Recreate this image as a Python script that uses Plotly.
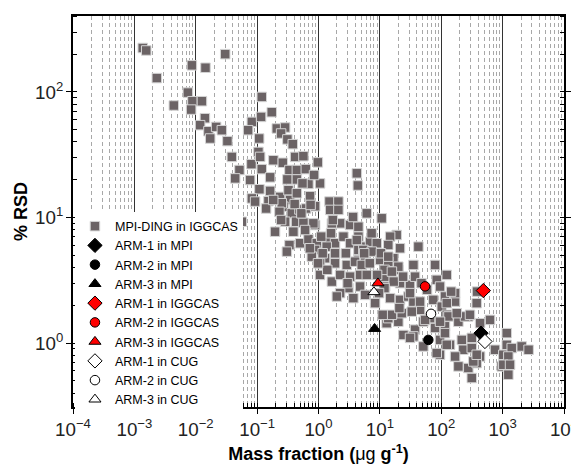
import plotly.graph_objects as go

# MPI-DING reference glasses measured in IGGCAS (mass fraction in ug/g, %RSD)
mpi_mass = [
    1.37e-3, 1.56e-3, 2.32e-3, 8.65e-3, 0.0144, 0.0302, 7.43e-3, 8.83e-3, 0.0126, 8.41e-3,
    4.39e-3, 0.0141, 0.0118, 0.0161, 0.0215, 0.0172, 0.0266, 0.0328, 0.0387, 0.0515,
    0.0439, 0.0769, 0.0807, 0.105, 0.112, 0.108, 0.082, 0.0713, 0.116, 0.119,
    0.173, 0.209, 0.286, 0.246, 0.311, 0.381, 0.416, 0.184, 0.262, 0.119,
    0.163, 0.336, 0.444, 0.621, 0.311, 0.444, 0.109, 0.163, 0.082, 0.0927,
    0.153, 0.237, 0.324, 0.344, 0.444, 0.268, 0.568, 0.686, 0.975, 1.06,
    4.21, 4.37, 0.140, 0.0564, 0.729, 0.252, 0.231, 0.367, 0.489, 0.628,
    0.881, 1.51, 2.11, 1.55, 0.196, 0.286, 0.390, 0.431, 0.568, 0.881,
    0.336, 0.305, 0.501, 0.686, 0.938, 0.881, 1.40, 1.86, 2.25, 3.27,
    4.47, 2.55, 3.27, 4.47, 5.74, 1.28, 1.86, 2.89, 4.47, 1.06,
    0.778, 5.74, 4.47, 0.826, 0.605, 1.36, 1.65, 6.12, 10.7, 18.8,
    14.7, 13.7, 21.3, 16.6, 42.4, 4.21, 6.92, 8.91, 5.38, 7.38,
    1.86, 3.94, 5.07, 10.1, 13.7, 1.06, 1.65, 2.25, 3.27, 4.76,
    6.12, 3.07, 4.76, 3.70, 2.25, 5.74, 8.35, 12.2, 12.2, 14.7,
    21.3, 20.0, 21.3, 31.0, 29.1, 35.2, 37.4, 45.2, 33.1, 20.0,
    35.2, 79.3, 123, 84.5, 31.0, 45.2, 74.3, 115, 168, 102,
    123, 12.9, 20.0, 37.4, 51.1, 79.3, 115, 190, 276, 24.2,
    35.2, 95.5, 139, 216, 314, 51.1, 95.5, 229, 314, 429,
    168, 190, 276, 378, 752, 1026, 378, 623, 429, 1167,
    966, 314, 1167, 1406, 2046, 1239, 1026, 1321, 1239, 123,
    115, 131, 123, 244, 294, 179, 168, 333, 378, 2650,
    383, 13.7, 22.7, 65.8, 95.5, 31.0, 84.5, 15.7, 11.1, 54.5,
    20.8, 1.99, 1.39, 2.98, 6.84, 10.4, 13.7, 11.9, 15.7, 9.0,
    16.8, 23.9, 47.6, 58.7, 95.5, 145, 11.9, 9.7, 0.246, 0.409,
    0.526, 0.743, 1.11, 0.724, 0.982, 1.17, 1.60, 2.11, 1.71, 3.66,
    7.33, 5.55, 2.79, 0.846, 0.548, 0.183,
]
mpi_rsd = [
    224, 214, 129, 163, 156, 200, 98.9, 84.4, 84.4, 72.4,
    78.0, 61.8, 54.4, 48.7, 52.7, 42.6, 49.6, 40.6, 30.4, 23.9,
    20.5, 19.9, 26.6, 33.3, 30.4, 42.6, 57.8, 49.6, 63.3, 91.3,
    69.0, 51.2, 52.1, 46.7, 41.9, 38.4, 30.4, 28.6, 27.3, 24.3,
    20.9, 23.9, 23.9, 24.3, 20.1, 20.1, 16.8, 16.3, 14.2, 13.4,
    13.5, 14.6, 16.5, 13.8, 15.6, 12.2, 30.8, 18.5, 27.5, 18.7,
    22.5, 18.0, 11.8, 9.26, 14.8, 13.0, 11.1, 10.8, 11.6, 11.8,
    12.3, 13.4, 13.4, 11.5, 7.71, 9.26, 7.71, 9.26, 9.09, 8.72,
    6.04, 5.35, 6.24, 6.71, 6.24, 5.52, 6.83, 6.24, 8.99, 8.72,
    8.45, 7.04, 6.24, 7.04, 5.86, 4.74, 4.32, 4.19, 4.59, 4.32,
    4.88, 4.59, 5.52, 8.99, 7.95, 5.86, 8.99, 10.8, 9.86, 7.26,
    7.04, 6.04, 5.69, 4.74, 5.86, 6.62, 6.42, 6.24, 5.52, 5.35,
    5.19, 4.45, 4.19, 4.59, 4.45, 3.49, 3.09, 3.49, 3.38, 3.49,
    3.49, 2.74, 2.82, 2.28, 2.50, 2.42, 2.08, 3.38, 2.82, 2.28,
    2.21, 3.83, 3.00, 2.91, 2.35, 2.14, 3.38, 1.84, 1.78, 4.06,
    4.19, 4.19, 3.49, 3.19, 2.50, 2.14, 2.21, 2.35, 2.14, 1.95,
    1.68, 1.44, 1.48, 1.28, 1.48, 1.32, 1.36, 1.48, 1.63, 1.16,
    1.13, 1.06, 0.969, 1.06, 1.10, 0.94, 0.807, 0.885, 0.913, 0.782,
    0.782, 0.652, 0.633, 0.693, 0.885, 0.807, 2.08, 1.53, 1.44, 1.20,
    0.652, 0.527, 0.969, 0.913, 0.94, 0.782, 0.672, 0.672, 0.560, 0.969,
    1.20, 1.63, 2.08, 1.63, 1.68, 1.73, 2.50, 0.714, 0.807, 0.885,
    2.57, 1.58, 1.73, 1.58, 1.48, 1.10, 0.833, 1.68, 1.68, 1.53,
    1.90, 2.35, 3.83, 3.00, 4.32, 5.19, 4.88, 3.83, 3.71, 3.49,
    3.09, 3.38, 3.00, 2.66, 2.82, 2.57, 2.74, 2.50, 9.55, 12.8,
    10.8, 12.6, 7.04, 5.69, 4.32, 5.19, 7.49, 11.5, 9.55, 10.1,
    7.49, 5.19, 5.19, 21.8, 18.7, 13.8,
]

# ARM glasses: one value per lab, order ARM-1, ARM-2, ARM-3
arm_names = ["ARM-1", "ARM-2", "ARM-3"]
labs = ["MPI", "IGGCAS", "CUG"]
arm_mass = {
    "MPI": [445, 61.6, 8.2],
    "IGGCAS": [485, 54.5, 9.3],
    "CUG": [515, 68.2, 8.0],
}
arm_rsd = {
    "MPI": [1.2, 1.06, 1.3],
    "IGGCAS": [2.62, 2.83, 3.0],
    "CUG": [1.03, 1.71, 2.55],
}

x_tick_alias = {"1": "10<sup>0</sup>", "10": "10<sup>1</sup>"}
y_tick_alias = {"1": "10<sup>0</sup>", "10": "10<sup>1</sup>"}

lab_fill = {"MPI": "black", "IGGCAS": "#ff0000", "CUG": "white"}
arm_symbol = {"ARM-1": "diamond", "ARM-2": "circle", "ARM-3": "triangle-up"}
arm_size = {"ARM-1": 11, "ARM-2": 9.5, "ARM-3": 10.5}

fig = go.Figure()

fig.add_trace(go.Scatter(
    x=mpi_mass, y=mpi_rsd, mode="markers", name="MPI-DING in IGGCAS",
    marker=dict(symbol="square", size=9.5, color="#6b6365",
                line=dict(color="#d4d4d4", width=1)),
))

for lab in labs:
    for i, arm in enumerate(arm_names):
        fig.add_trace(go.Scatter(
            x=[arm_mass[lab][i]], y=[arm_rsd[lab][i]], mode="markers",
            name=f"{arm} in {lab}",
            marker=dict(symbol=arm_symbol[arm], size=arm_size[arm],
                        color=lab_fill[lab], line=dict(color="black", width=1)),
        ))

axis_font = dict(family="Liberation Sans, Arial, sans-serif", size=15, color="#222")
title_font = dict(family="Liberation Sans, Arial, sans-serif", size=18, color="black")

fig.update_xaxes(
    type="log", range=[-4, 4], tickmode="linear", tick0=0, dtick=1,
    exponentformat="power", labelalias=x_tick_alias, automargin=False,
    ticklabeloverflow="allow",
    showline=True, linecolor="black", linewidth=1.5, mirror=True,
    ticks="outside", ticklen=5, tickcolor="black", tickfont=axis_font,
    showgrid=True, gridcolor="#333", gridwidth=1,
    minor=dict(dtick="D1", showgrid=True, gridcolor="#a8a8a8", griddash="4px,3px",
               ticks="inside", ticklen=4, tickcolor="black"),
    title=dict(text="<b>Mass fraction (</b>μg <b>g<sup>-1</sup>)</b>",
               font=title_font, standoff=9),
    zeroline=False,
)
fig.update_yaxes(
    type="log", range=[-0.509, 2.605], tickmode="linear", tick0=0, dtick=1,
    exponentformat="power", labelalias=y_tick_alias, automargin=False,
    showline=True, linecolor="black", linewidth=1.5, mirror="ticks",
    ticks="outside", ticklen=5, tickcolor="black", tickfont=axis_font,
    showgrid=False,
    minor=dict(dtick="D1", showgrid=False, ticks="inside", ticklen=4, tickcolor="black"),
    title=dict(text="<b>% RSD</b>", font=title_font, standoff=3),
    zeroline=False,
)

# the page body adds an 8px offset, so the figure is made 8px smaller
fig.update_layout(
    width=571, height=457,
    margin=dict(l=65, r=15, t=8, b=58, autoexpand=False),
    plot_bgcolor="white", paper_bgcolor="white",
    showlegend=True,
    legend=dict(
        x=0.004, y=0.5, xanchor="left", yanchor="top",
        bgcolor="white", borderwidth=0, tracegroupgap=0,
        font=dict(family="Liberation Sans, Arial, sans-serif", size=12.5, color="black"),
    ),
)

fig.write_html("out.html")
